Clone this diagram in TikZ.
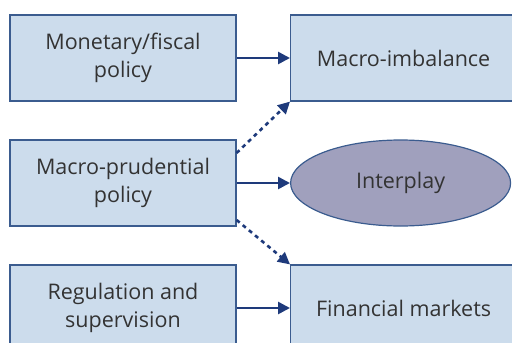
\documentclass[tikz,border=0pt]{standalone}
\usepackage{fontspec}
\setmainfont{Open Sans}
\usetikzlibrary{arrows.meta,shapes.geometric}
\definecolor{boxfill}{HTML}{CCDCEC}
\definecolor{boxline}{HTML}{3B5C8F}
\definecolor{arrowc}{HTML}{1E3A7B}
\definecolor{ellfill}{HTML}{A0A0BD}
\definecolor{txt}{HTML}{333333}
\tikzset{
  box/.style={draw=boxline, fill=boxfill, line width=1.2pt, minimum width=226pt, minimum height=86pt, inner sep=0pt, align=center, text=txt, font=\fontsize{21.5}{28}\selectfont},
  ell/.style={draw=boxline, fill=ellfill, line width=1.2pt, ellipse, minimum width=220pt, minimum height=86pt, inner sep=0pt, text=txt, font=\fontsize{21.5}{28}\selectfont},
  solidarrow/.style={draw=arrowc, line width=2.6pt, -{Triangle[length=12pt,width=12pt]}},
  dasharrow/.style={draw=arrowc, line width=2.6pt, dash pattern=on 4pt off 4pt, -{Triangle[length=12pt,width=12pt]}}
}
\begin{document}
\begin{tikzpicture}[x=1pt,y=-1pt]
\useasboundingbox (0,0) rectangle (512,343);
\clip (0,0) rectangle (512,343);
\node[box] (mf) at (123,58) {Monetary/fiscal\\policy};
\node[box] (mp) at (123,183) {Macro-prudential\\policy};
\node[box] (rs) at (123,308) {Regulation and\\supervision};
\node[box, anchor=west] (mi) at (290,58) {\hspace*{14pt}Macro-imbalance\hspace*{14pt}};
\node[ell, anchor=west] (ip) at (290,183) {Interplay};
\node[box, anchor=west] (fm) at (290,308) {\hspace*{14pt}Financial markets\hspace*{14pt}};
\draw[solidarrow] (mf.east) -- (mi.west);
\draw[solidarrow] (mp.east) -- (ip.west);
\draw[solidarrow] (rs.east) -- (fm.west);
\draw[dasharrow] ([yshift=30pt]mp.east) -- (mi.south west);
\draw[dasharrow] ([yshift=-37pt]mp.east) -- (fm.north west);
\end{tikzpicture}
\end{document}
